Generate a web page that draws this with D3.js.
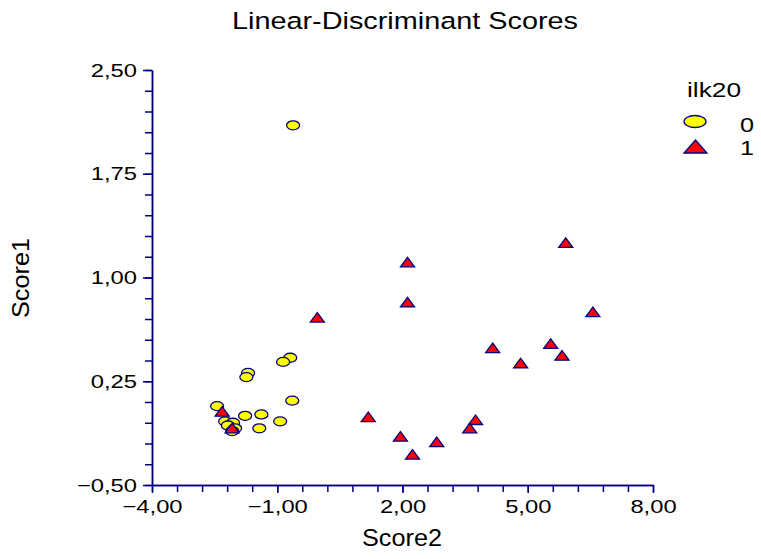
<!DOCTYPE html>
<html>
<head>
<meta charset="utf-8">
<script src="https://cdn.jsdelivr.net/npm/d3@7"></script>
<style>
body { margin: 0; background: #fff; }
text { font-family: "Liberation Sans", Arial, sans-serif; }
</style>
</head>
<body>
<svg id="svg"></svg>
<script>
// ilk20 = 0 (ellipses)
var score2_0 = [-0.62, -0.69, -0.86, -1.70, -1.74, -0.64, -2.44, -1.77, -1.38, -0.93, -1.43, -2.25, -2.06, -2.18, -2.01, -2.08];
var score1_0 = [2.10, 0.42, 0.39, 0.31, 0.28, 0.11, 0.07, 0.00, 0.01, -0.04, -0.09, -0.04, -0.05, -0.07, -0.09, -0.11];
// ilk20 = 1 (triangles)
var score2_1 = [5.91, 2.12, 2.12, -0.04, 6.56, 4.16, 5.55, 5.82, 4.83, 1.18, 1.95, 2.82, 2.24, 3.75, 3.61, -2.32, -2.08];
var score1_1 = [1.25, 1.11, 0.82, 0.71, 0.75, 0.49, 0.52, 0.435, 0.38, -0.01, -0.15, -0.19, -0.28, -0.03, -0.09, 0.03, -0.09];

var xTicks = [-4, -1, 2, 5, 8];
var yTicks = [-0.5, 0.25, 1, 1.75, 2.5];
var legendLabels = ["0", "1"];

var larghezza = 761;
var altezza = 559;
var navy = "#000080";

var x = d3.scaleLinear().domain([-4, 8]).range([152, 653]);
var y = d3.scaleLinear().domain([-0.5, 2.5]).range([485, 70]);

var fmt = function (d) { return d3.format(".2f")(d).replace(".", ","); };

// stretch text a bit wider, the original glyphs are wider than Arial
function stretch(sel, k) {
    sel.each(function () {
        var w = this.getComputedTextLength();
        d3.select(this).attr("textLength", w * k).attr("lengthAdjust", "spacingAndGlyphs");
    });
}

function draw() {
    var svg = d3.select("#svg");
    svg.attr("width", larghezza).attr("height", altezza);

    drawAxes(svg);
    drawPoints(svg);
    drawTexts(svg);
    drawLegend(svg);
}

function styleAxis(g) {
    g.select(".domain").attr("stroke", navy).attr("stroke-width", 1.5);
    g.selectAll(".tick line").attr("stroke", navy).attr("stroke-width", 1.5);
    g.selectAll(".tick text").attr("fill", "#000").style("font-size", "19px");
}

function drawAxes(svg) {
    var minorX = d3.range(0, 21).map(function (i) { return -4 + i * 0.6; });
    var minorY = d3.range(0, 21).map(function (i) { return -0.5 + i * 0.15; });

    var gxm = svg.append("g").attr("transform", "translate(0,485)")
        .call(d3.axisBottom(x).tickValues(minorX).tickFormat("").tickSize(7).tickSizeOuter(0));
    styleAxis(gxm);
    var gym = svg.append("g").attr("transform", "translate(152,0)")
        .call(d3.axisLeft(y).tickValues(minorY).tickFormat("").tickSize(7).tickSizeOuter(0));
    styleAxis(gym);

    var gx = svg.append("g").attr("transform", "translate(0,485)")
        .call(d3.axisBottom(x).tickValues(xTicks).tickFormat(fmt).tickSize(8).tickSizeOuter(0).tickPadding(7));
    styleAxis(gx);
    stretch(gx.selectAll(".tick text"), 1.25);

    var gy = svg.append("g").attr("transform", "translate(152,0)")
        .call(d3.axisLeft(y).tickValues(yTicks).tickFormat(fmt).tickSize(9).tickSizeOuter(0).tickPadding(6));
    styleAxis(gy);
    stretch(gy.selectAll(".tick text"), 1.25);
}

function drawPoints(svg) {
    score2_0.forEach(function (element, index) {
        svg.append("ellipse")
            .attr("cx", x(element))
            .attr("cy", y(score1_0[index]))
            .attr("rx", 6.5)
            .attr("ry", 4.5)
            .style("fill", "#ffff00")
            .style("stroke", navy)
            .style("stroke-width", "1.3px");
    });

    score2_1.forEach(function (element, index) {
        var cx = x(element);
        var cy = y(score1_1[index]);
        svg.append("path")
            .attr("d", "M" + (cx - 7) + " " + (cy + 4.5) + " L" + (cx + 7) + " " + (cy + 4.5) + " L" + cx + " " + (cy - 5) + " Z")
            .style("fill", "#ff0000")
            .style("stroke", navy)
            .style("stroke-width", "1.3px");
    });
}

function drawTexts(svg) {
    svg.append("text")
        .attr("x", 405).attr("y", 29)
        .attr("text-anchor", "middle")
        .style("font-size", "24.5px")
        .attr("textLength", 346).attr("lengthAdjust", "spacingAndGlyphs")
        .text("Linear-Discriminant Scores");

    svg.append("text")
        .attr("x", 402).attr("y", 546)
        .attr("text-anchor", "middle")
        .style("font-size", "23px")
        .attr("textLength", 80).attr("lengthAdjust", "spacingAndGlyphs")
        .text("Score2");

    svg.append("text")
        .attr("transform", "translate(29,278) rotate(-90)")
        .attr("text-anchor", "middle")
        .style("font-size", "23px")
        .attr("textLength", 80).attr("lengthAdjust", "spacingAndGlyphs")
        .text("Score1");
}

function drawLegend(svg) {
    var t = svg.append("text")
        .attr("x", 687).attr("y", 97)
        .style("font-size", "21px")
        .text("ilk20");
    stretch(t, 1.25);

    svg.append("ellipse")
        .attr("cx", 695).attr("cy", 121.5)
        .attr("rx", 11).attr("ry", 6)
        .style("fill", "#ffff00")
        .style("stroke", navy)
        .style("stroke-width", "1.3px");

    svg.append("path")
        .attr("d", "M684 153 L707 153 L695.5 140 Z")
        .style("fill", "#ff0000")
        .style("stroke", navy)
        .style("stroke-width", "1.3px");

    legendLabels.forEach(function (element, index) {
        var l = svg.append("text")
            .attr("x", 740).attr("y", 132 + index * 23)
            .style("font-size", "21px")
            .text(element);
        stretch(l, 1.2);
    });
}

draw();
</script>
</body>
</html>
